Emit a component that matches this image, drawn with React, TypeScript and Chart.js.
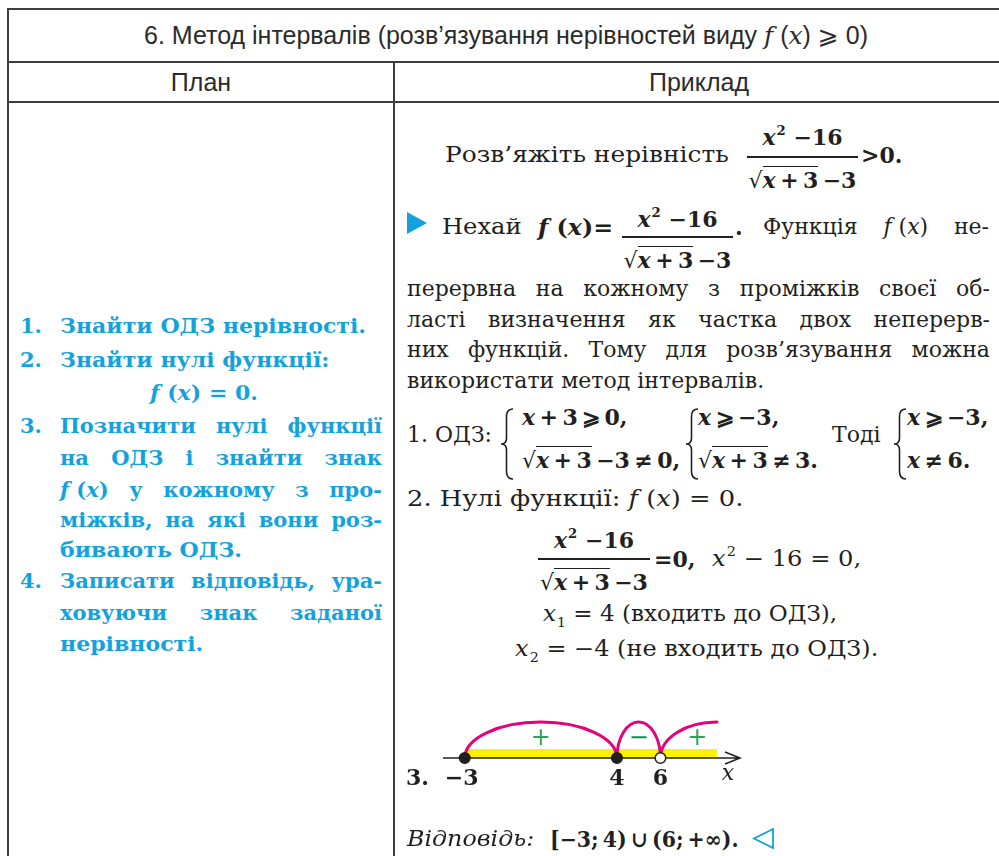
import React, { useEffect, useRef } from 'react';
import { Chart, registerables } from 'chart.js';

Chart.register(...registerables);

// ---------- number line data ----------
const zeroPoints = [-3, 4, 6];
const zeroIncluded = [true, true, false];
const zeroLabels = ['−3', '4', '6'];
const intervalFrom = [-3, 4, 6];
const intervalTo = [4, 6, 8.6];
const intervalOpenEnd = [false, false, true];
const arcHeights = [1, 1, 1];
const intervalSigns = ['+', '−', '+'];
const signPositions = [0.5, 5, 7.7];
const axisRange = [-4, 9.66];
const domainShade = [-3, 8.6];
const axisName = 'x';

// ---------- styles ----------
const INK = '#231f20';
const CYAN = '#12a3df';
const MAGENTA = '#e5007e';
const GREEN = '#2fa35a';
const YELLOW = '#fff200';
const LINE = '#3d3d3d';
const SERIF = '"DejaVu Serif", "Liberation Serif", serif';
const SANS = '"Liberation Sans", Arial, "DejaVu Sans", sans-serif';
const BASE = 0.846;
const TS = '\u2009'; // thin space

type TP = {
  x: number; b: number; s?: number; bold?: boolean; italic?: boolean; k?: number;
  color?: string; children?: React.ReactNode;
};

function T({ x, b, s = 22, bold, italic, k = 1, color = INK, children }: TP) {
  return (
    <div style={{
      position: 'absolute', left: x, top: b - BASE * s, fontSize: s, lineHeight: `${s}px`,
      height: s, fontFamily: SERIF, fontWeight: bold ? 700 : 400, fontStyle: italic ? 'italic' : 'normal',
      color, whiteSpace: 'nowrap', transform: k === 1 ? undefined : `scaleX(${k})`, transformOrigin: 'left center',
    }}>{children}</div>
  );
}

function J({ x, b, w, s = 22, bold, color = INK, words }: { x: number; b: number; w: number; s?: number; bold?: boolean; color?: string; words: React.ReactNode[] }) {
  return (
    <div style={{
      position: 'absolute', left: x, top: b - BASE * s, width: w, fontSize: s, lineHeight: `${s}px`,
      height: s, fontFamily: SERIF, fontWeight: bold ? 700 : 400, color, whiteSpace: 'nowrap',
      display: 'flex', justifyContent: 'space-between',
    }}>
      {words.map((wd, i) => <span key={i}>{wd}</span>)}
    </div>
  );
}

function C({ x1, x2, b, s = 22, bold, children }: { x1: number; x2: number; b: number; s?: number; bold?: boolean; children?: React.ReactNode }) {
  return (
    <div style={{
      position: 'absolute', left: x1, width: x2 - x1, top: b - BASE * s, fontSize: s, lineHeight: `${s}px`,
      height: s, fontFamily: SERIF, fontWeight: bold ? 700 : 400, color: INK, whiteSpace: 'nowrap', textAlign: 'center',
    }}>{children}</div>
  );
}

const I = ({ children }: { children: React.ReactNode }) => <i>{children}</i>;
const Sup = ({ children }: { children: React.ReactNode }) => (
  <span style={{ fontSize: '0.6em', position: 'relative', top: '-0.8em', marginLeft: 1 }}>{children}</span>
);
const Sub = ({ children }: { children: React.ReactNode }) => (
  <span style={{ fontSize: '0.6em', position: 'relative', top: '0.45em', marginLeft: 1 }}>{children}</span>
);
const Sqrt = ({ children }: { children: React.ReactNode }) => (
  <span>
    <span style={{ fontWeight: 400, fontStyle: 'normal' }}>√</span>
    <span style={{ borderTop: `1.5px solid ${INK}` }}>{children}</span>
  </span>
);

function Bar({ x1, x2, y }: { x1: number; x2: number; y: number }) {
  return <div style={{ position: 'absolute', left: x1, top: y - 0.75, width: x2 - x1, height: 1.5, background: INK }} />;
}
function HLine({ x1, x2, y }: { x1: number; x2: number; y: number }) {
  return <div style={{ position: 'absolute', left: x1, top: y - 1, width: x2 - x1, height: 2, background: LINE }} />;
}
function VLine({ x, y1, y2 }: { x: number; y1: number; y2: number }) {
  return <div style={{ position: 'absolute', left: x - 1, top: y1, width: 2, height: y2 - y1, background: LINE }} />;
}

function Brace({ x, y, h, w = 13 }: { x: number; y: number; h: number; w?: number }) {
  const m = w / 2;
  const d = `M ${w} 1 Q ${m} 1 ${m} ${h * 0.12} L ${m} ${h * 0.42} Q ${m} ${h / 2} 1 ${h / 2} Q ${m} ${h / 2} ${m} ${h * 0.58} L ${m} ${h * 0.88} Q ${m} ${h - 1} ${w} ${h - 1}`;
  return (
    <svg style={{ position: 'absolute', left: x, top: y }} width={w} height={h}>
      <path d={d} fill="none" stroke={INK} strokeWidth={1.6} />
    </svg>
  );
}

function NumberLine() {
  const ref = useRef<HTMLCanvasElement>(null);
  useEffect(() => {
    const canvas = ref.current;
    if (!canvas) return;
    const plugin = {
      id: 'numberLine',
      beforeDatasetsDraw(chart: any) {
        const { ctx, scales } = chart;
        const xs = scales.x, ys = scales.y;
        const y0 = ys.getPixelForValue(0);
        const px = (v: number) => xs.getPixelForValue(v);
        ctx.save();
        ctx.fillStyle = YELLOW;
        ctx.fillRect(px(domainShade[0]), y0 - 9, px(domainShade[1]) - px(domainShade[0]), 9);
        const xa = px(axisRange[0]), xb = px(axisRange[1]);
        ctx.strokeStyle = INK;
        ctx.lineWidth = 1.5;
        ctx.beginPath();
        ctx.moveTo(xa, y0);
        ctx.lineTo(xb, y0);
        ctx.moveTo(xb - 15, y0 - 6);
        ctx.lineTo(xb, y0);
        ctx.lineTo(xb - 15, y0 + 6);
        ctx.stroke();
        ctx.strokeStyle = MAGENTA;
        ctx.lineWidth = 3;
        ctx.lineCap = 'round';
        for (let i = 0; i < intervalFrom.length; i++) {
          const x1 = px(intervalFrom[i]), x2 = px(intervalTo[i]);
          const ry = y0 - ys.getPixelForValue(arcHeights[i]);
          ctx.beginPath();
          if (intervalOpenEnd[i]) {
            ctx.ellipse(x2, y0, x2 - x1, ry, 0, Math.PI, Math.PI * 1.5);
          } else {
            ctx.ellipse((x1 + x2) / 2, y0, (x2 - x1) / 2, ry, 0, Math.PI, Math.PI * 2);
          }
          ctx.stroke();
        }
        ctx.restore();
      },
      afterDatasetsDraw(chart: any) {
        const { ctx, scales } = chart;
        const xs = scales.x, ys = scales.y;
        const y0 = ys.getPixelForValue(0);
        ctx.save();
        ctx.textAlign = 'center';
        ctx.textBaseline = 'alphabetic';
        ctx.font = '24px "DejaVu Sans"';
        for (let i = 0; i < intervalSigns.length; i++) {
          ctx.fillStyle = i === 1 ? '#00964b' : GREEN;
          ctx.fillText(intervalSigns[i], xs.getPixelForValue(signPositions[i]), y0 - 13);
        }
        ctx.fillStyle = INK;
        ctx.font = 'bold 22px "DejaVu Serif"';
        for (let i = 0; i < zeroPoints.length; i++) {
          ctx.fillText(zeroLabels[i], xs.getPixelForValue(zeroPoints[i]) - (i === 0 ? 3 : 0), y0 + 27);
        }
        ctx.font = 'italic 22px "DejaVu Serif"';
        ctx.fillText(axisName, xs.getPixelForValue(axisRange[1]) - 12, y0 + 22);
        ctx.restore();
      },
    };
    const chart = new Chart(canvas, {
      type: 'scatter',
      data: {
        datasets: [{
          data: zeroPoints.map((v) => ({ x: v, y: 0 })),
          pointRadius: 5.3,
          pointHoverRadius: 5.3,
          pointBackgroundColor: zeroIncluded.map((f) => (f ? INK : '#ffffff')),
          pointBorderColor: INK,
          pointBorderWidth: 1.5,
          clip: false as any,
        }],
      },
      options: {
        animation: false,
        responsive: false,
        maintainAspectRatio: false,
        events: [],
        layout: { padding: { left: 43, right: 20, top: 0, bottom: 42 } },
        scales: {
          x: { type: 'linear', min: axisRange[0], max: axisRange[1], display: false },
          y: { type: 'linear', min: 0, max: 1.7, display: false },
        },
        plugins: { legend: { display: false }, tooltip: { enabled: false } },
      },
      plugins: [plugin as any],
    });
    return () => chart.destroy();
  }, []);
  return (
    <canvas ref={ref} width={360} height={110}
      style={{ position: 'absolute', left: 400, top: 690, width: 360, height: 110 }} />
  );
}

export default function App() {
  const LS = 21;
  const KL = 1.05;
  const HS = 25;
  const head: React.CSSProperties = { position: 'absolute', fontSize: HS, lineHeight: `${HS}px`, fontFamily: SANS, color: '#2b2b2b', textAlign: 'center', whiteSpace: 'nowrap' };
  const lc = { s: LS, bold: true, color: CYAN };
  return (
    <div style={{ position: 'absolute', left: 0, top: 0, width: 999, height: 856, overflow: 'hidden', background: '#fff' }}>
      <HLine x1={7} x2={1010} y={9} />
      <HLine x1={7} x2={1010} y={62} />
      <HLine x1={7} x2={1010} y={102} />
      <VLine x={8} y1={8} y2={860} />
      <VLine x={394} y1={62} y2={860} />

      <div style={{ ...head, left: 8, width: 996, top: 44 - 0.8465 * HS }}>
        6. Метод інтервалів (розв’язування нерівностей виду <span style={{ fontFamily: SERIF, fontStyle: 'italic' }}>f</span> (<span style={{ fontFamily: SERIF, fontStyle: 'italic' }}>x</span>) ⩾ 0)
      </div>
      <div style={{ ...head, left: 8, width: 386, top: 91 - 0.8465 * HS }}>План</div>
      <div style={{ ...head, left: 394, width: 610, top: 91 - 0.8465 * HS }}>Приклад</div>

      {/* left column: plan */}
      <T x={20} b={333} {...lc}>1.</T>
      <T x={60} b={333} {...lc} k={KL}>Знайти ОДЗ нерівності.</T>
      <T x={20} b={367} {...lc}>2.</T>
      <T x={60} b={367} {...lc} k={KL}>Знайти нулі функції:</T>
      <T x={150} b={400} {...lc} k={KL}><I>f</I> (<I>x</I>) = 0.</T>
      <T x={20} b={433} {...lc}>3.</T>
      <J x={60} b={433} w={322} {...lc} words={['Позначити', 'нулі', 'функції']} />
      <J x={60} b={465} w={322} {...lc} words={['на', 'ОДЗ', 'і', 'знайти', 'знак']} />
      <J x={60} b={497} w={322} {...lc} words={[<><I>f</I> (<I>x</I>)</>, 'у', 'кожному', 'з', 'про-']} />
      <J x={60} b={527} w={322} {...lc} words={['міжків,', 'на', 'які', 'вони', 'роз-']} />
      <T x={60} b={557} {...lc} k={KL}>бивають ОДЗ.</T>
      <T x={20} b={588} {...lc}>4.</T>
      <J x={60} b={588} w={322} {...lc} words={['Записати', 'відповідь,', 'ура-']} />
      <J x={60} b={620} w={322} {...lc} words={['ховуючи', 'знак', 'заданої']} />
      <T x={60} b={651} {...lc} k={KL}>нерівності.</T>

      {/* right column: example */}
      <T x={445} b={163} k={1.13}>Розв’яжіть нерівність</T>
      <C x1={747} x2={858} b={145} bold><I>x</I><Sup>2</Sup> −16</C>
      <Bar x1={747} x2={858} y={157} />
      <C x1={747} x2={858} b={188} bold><Sqrt><I>x</I>{TS}+{TS}3</Sqrt>{TS}−3</C>
      <T x={861} b={163} bold>&gt;0.</T>

      <div style={{ position: 'absolute', left: 407, top: 212, width: 0, height: 0, borderLeft: `20px solid ${CYAN}`, borderTop: '11.5px solid transparent', borderBottom: '11.5px solid transparent' }} />
      <T x={442} b={235} k={1.1}>Нехай</T>
      <T x={538} b={235} bold k={1.08}><I>f</I> (<I>x</I>)=</T>
      <C x1={622} x2={733} b={227} bold><I>x</I><Sup>2</Sup> −16</C>
      <Bar x1={622} x2={733} y={237} />
      <C x1={622} x2={733} b={268} bold><Sqrt><I>x</I>{TS}+{TS}3</Sqrt>{TS}−3</C>
      <T x={735} b={235} bold>.</T>
      <J x={763} b={235} w={226} words={['Функція', <><I>f</I> (<I>x</I>)</>, 'не-']} />

      <J x={407} b={297} w={583} words={['перервна', 'на', 'кожному', 'з', 'проміжків', 'своєї', 'об-']} />
      <J x={407} b={328} w={583} words={['ласті', 'визначення', 'як', 'частка', 'двох', 'неперерв-']} />
      <J x={407} b={358} w={583} words={['них', 'функцій.', 'Тому', 'для', 'розв’язування', 'можна']} />
      <T x={407} b={389}>використати метод інтервалів.</T>

      <T x={407} b={443}>1. ОДЗ:</T>
      <Brace x={500} y={408} h={72} />
      <T x={522} b={425} bold><I>x</I>{TS}+{TS}3{TS}⩾{TS}0,</T>
      <T x={522} b={468} bold><Sqrt><I>x</I>{TS}+{TS}3</Sqrt>{TS}−3{TS}≠{TS}0,</T>
      <Brace x={685} y={408} h={72} />
      <T x={698} b={425} bold><I>x</I>{TS}⩾{TS}−3,</T>
      <T x={698} b={468} bold><Sqrt><I>x</I>{TS}+{TS}3</Sqrt>{TS}≠{TS}3.</T>
      <T x={832} b={443}>Тоді</T>
      <Brace x={893} y={408} h={72} />
      <T x={907} b={425} bold><I>x</I>{TS}⩾{TS}−3,</T>
      <T x={907} b={468} bold><I>x</I>{TS}≠{TS}6.</T>

      <T x={407} b={507} k={1.17}>2. Нулі функції: <I>f</I> (<I>x</I>) = 0.</T>

      <C x1={538} x2={650} b={548} bold><I>x</I><Sup>2</Sup> −16</C>
      <Bar x1={538} x2={650} y={559} />
      <C x1={538} x2={650} b={590} bold><Sqrt><I>x</I>{TS}+{TS}3</Sqrt>{TS}−3</C>
      <T x={654} b={567} bold>=0,</T>
      <T x={712} b={567} k={1.1}><I>x</I><Sup>2</Sup> − 16 = 0,</T>
      <T x={543} b={622} k={1.05}><I>x</I><Sub>1</Sub> = 4 (входить до ОДЗ),</T>
      <T x={515} b={657} k={1.09}><I>x</I><Sub>2</Sub> = −4 (не входить до ОДЗ).</T>

      <NumberLine />
      <T x={406} b={785} bold>3.</T>

      <T x={407} b={847} italic k={1.08}>Відповідь:</T>
      <T x={550} b={847} bold k={0.93}>[−3;{TS}4){TS}∪{TS}(6;{TS}+∞).</T>
      <svg style={{ position: 'absolute', left: 749, top: 826 }} width={28} height={26}>
        <polygon points="24,3 5,12.5 24,22" fill="none" stroke={CYAN} strokeWidth={1.8} />
      </svg>
    </div>
  );
}
